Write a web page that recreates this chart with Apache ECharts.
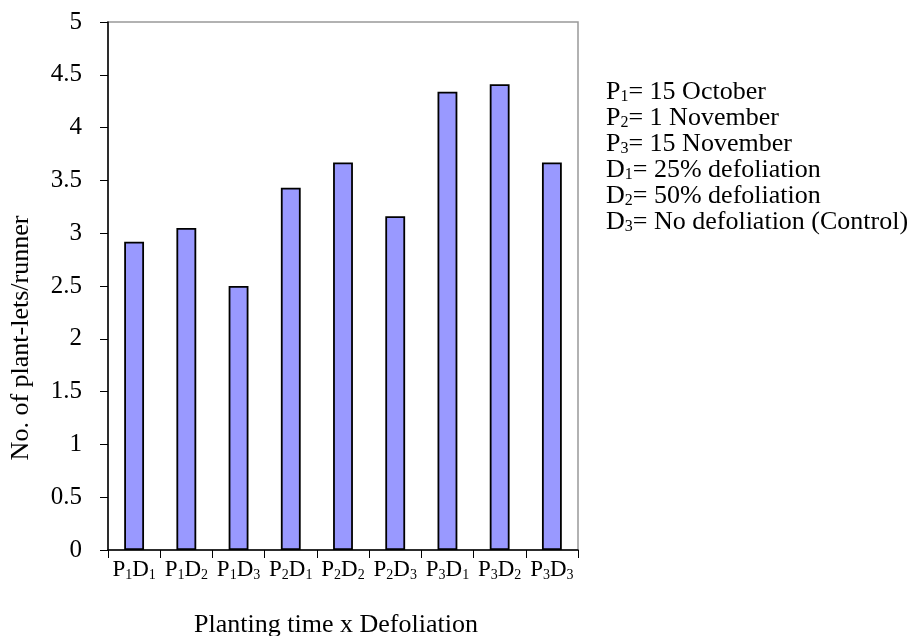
<!DOCTYPE html>
<html>
<head>
<meta charset="utf-8">
<script src="https://cdn.jsdelivr.net/npm/echarts@6/dist/echarts.min.js"></script>
<style>html,body{margin:0;padding:0;background:#fff;}#c{width:920px;height:636px;}</style>
</head>
<body>
<div id="c"></div>
<script>
// ---- data ----
const categories = ['P1D1','P1D2','P1D3','P2D1','P2D2','P2D3','P3D1','P3D2','P3D3'];
const values = [2.92, 3.05, 2.50, 3.43, 3.67, 3.16, 4.34, 4.41, 3.67];
const yTicks = [0, 0.5, 1, 1.5, 2, 2.5, 3, 3.5, 4, 4.5, 5];
const legendItems = [
  ['P', '1', '= 15 October'],
  ['P', '2', '= 1 November'],
  ['P', '3', '= 15 November'],
  ['D', '1', '= 25% defoliation'],
  ['D', '2', '= 50% defoliation'],
  ['D', '3', '= No defoliation (Control)']
];
const xAxisTitle = 'Planting time x Defoliation';
const yAxisTitle = 'No. of plant-lets/runner';

const FONT = '"Liberation Serif", "Times New Roman", serif';
const xRich = {
  m: {fontFamily: FONT, fontSize: 23, color: '#000', lineHeight: 24, verticalAlign: 'top'},
  s: {fontFamily: FONT, fontSize: 14, color: '#000', lineHeight: 8, verticalAlign: 'bottom'}
};
const legRich = {
  m: {fontFamily: FONT, fontSize: 26, color: '#000', lineHeight: 26, verticalAlign: 'top'},
  s: {fontFamily: FONT, fontSize: 16, color: '#000', lineHeight: 9, verticalAlign: 'bottom'}
};
function subscriptText(cat) {
  return cat.replace(/([A-Z])(\d)/g, '{m|$1}{s|$2}');
}

const chart = echarts.init(document.getElementById('c'), null, {renderer: 'canvas'});
chart.setOption({
  animation: false,
  backgroundColor: '#fff',
  grid: {left: 108, right: 342, top: 22, bottom: 86, show: true, borderColor: '#999', borderWidth: 1.5,
         containLabel: false, outerBoundsMode: 'none'},
  xAxis: {
    type: 'category',
    data: categories,
    boundaryGap: true,
    name: xAxisTitle,
    nameLocation: 'middle',
    nameGap: 62,
    nameTextStyle: {fontFamily: FONT, fontSize: 26, color: '#000', padding: [0, 14, 0, 0]},
    axisLine: {lineStyle: {color: '#000', width: 1.5}},
    axisTick: {show: true, alignWithLabel: false, length: 8, lineStyle: {color: '#000', width: 1}},
    axisLabel: {
      interval: 0, margin: 8, color: '#000',
      formatter: v => subscriptText(v),
      rich: xRich
    },
    splitLine: {show: false}
  },
  yAxis: {
    type: 'value',
    min: yTicks[0], max: yTicks[yTicks.length - 1], interval: 0.5,
    axisLine: {show: true, lineStyle: {color: '#000', width: 1.5}},
    axisTick: {show: true, length: 8, lineStyle: {color: '#000', width: 1}},
    axisLabel: {margin: 26, color: '#000', fontFamily: FONT, fontSize: 25},
    splitLine: {show: false}
  },
  series: [{
    type: 'bar',
    data: values,
    barWidth: '38%',
    itemStyle: {color: '#9999FF', borderColor: '#000', borderWidth: 1.8}
  }],
  graphic: [
    {
      type: 'text',
      left: 606, top: 79,
      style: {
        text: legendItems.map(it => '{m|' + it[0] + '}{s|' + it[1] + '}{m|' + it[2] + '}').join('\n'),
        rich: legRich
      }
    },
    {
      type: 'text',
      x: 21, y: 338,
      rotation: Math.PI / 2,
      style: {
        text: yAxisTitle,
        font: '26px ' + FONT,
        fill: '#000',
        align: 'center',
        verticalAlign: 'middle'
      }
    }
  ]
});
</script>
</body>
</html>
